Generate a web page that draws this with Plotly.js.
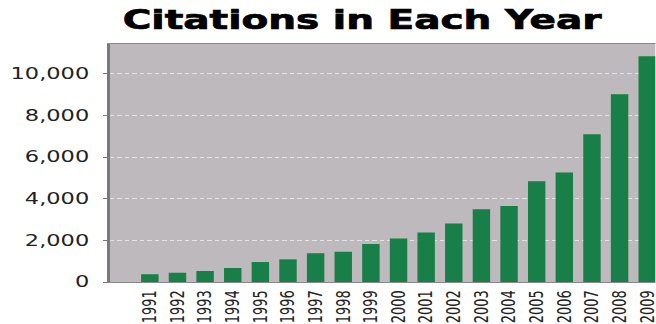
<!DOCTYPE html>
<html>
<head>
<meta charset="utf-8">
<script src="https://cdn.plot.ly/plotly-3.0.1.min.js"></script>
<style>
  html, body { margin: 0; padding: 0; background: #ffffff; overflow: hidden; width: 656px; height: 324px; }
  #wrap { width: 656px; height: 324px; overflow: hidden; }
  #chart { width: 437.33px; height: 324px; transform: scaleX(1.5); transform-origin: 0 0; }
  #chart .gtitle { stroke: #000000; stroke-width: 0.7px; paint-order: stroke fill; }
</style>
</head>
<body>
<div id="wrap"><div id="chart"></div></div>
<script>
const years = ["1991","1992","1993","1994","1995","1996","1997","1998","1999","2000",
               "2001","2002","2003","2004","2005","2006","2007","2008","2009"];
const citations = [370, 450, 530, 670, 960, 1090, 1380, 1450, 1830, 2090,
                   2380, 2810, 3500, 3650, 4840, 5260, 7100, 9020, 10850];
const yTickVals = [0, 2000, 4000, 6000, 8000, 10000];
const yTickText = ["0", "2,000", "4,000", "6,000", "8,000", "10,000"];
const chartTitle = "Citations in Each Year";

const trace = {
  type: "bar",
  x: years,
  y: citations,
  marker: { color: "#177f47", line: { width: 0 } },
  hoverinfo: "x+y"
};

const layout = {
  width: 437.33,
  height: 324,
  margin: { l: 73, r: 0, t: 44, b: 42 },
  paper_bgcolor: "#ffffff",
  plot_bgcolor: "#bdb9bc",
  bargap: 0.37,
  showlegend: false,
  title: {
    text: "<b>" + chartTitle + "</b>",
    font: { family: "DejaVu Sans", size: 26, color: "#000000" },
    x: 0.552, xref: "container", xanchor: "center",
    y: 0.94, yref: "container", yanchor: "middle"
  },
  xaxis: {
    type: "category",
    range: [-1.46, 18.3],
    tickangle: -90,
    tickfont: { family: "DejaVu Sans", size: 13, color: "#222222" },
    showgrid: false,
    showline: true,
    linecolor: "#8a888a",
    linewidth: 1,
    mirror: true,
    ticks: "",
    ticklabelstandoff: 2,
    zeroline: false,
    fixedrange: true
  },
  yaxis: {
    range: [0, 11440],
    tickvals: yTickVals,
    ticktext: yTickText,
    tickfont: { family: "DejaVu Sans", size: 15, color: "#222222" },
    ticks: "outside",
    ticklen: 3,
    tickcolor: "#777777",
    tickwidth: 1,
    ticklabelstandoff: 6,
    showline: true,
    linecolor: "#7a787a",
    linewidth: 1.5,
    showgrid: true,
    gridcolor: "#e6e3e6",
    gridwidth: 1,
    griddash: "3px,2px",
    zeroline: false,
    fixedrange: true
  }
};

Plotly.newPlot("chart", [trace], layout, { displayModeBar: false, staticPlot: true });
</script>
</body>
</html>
